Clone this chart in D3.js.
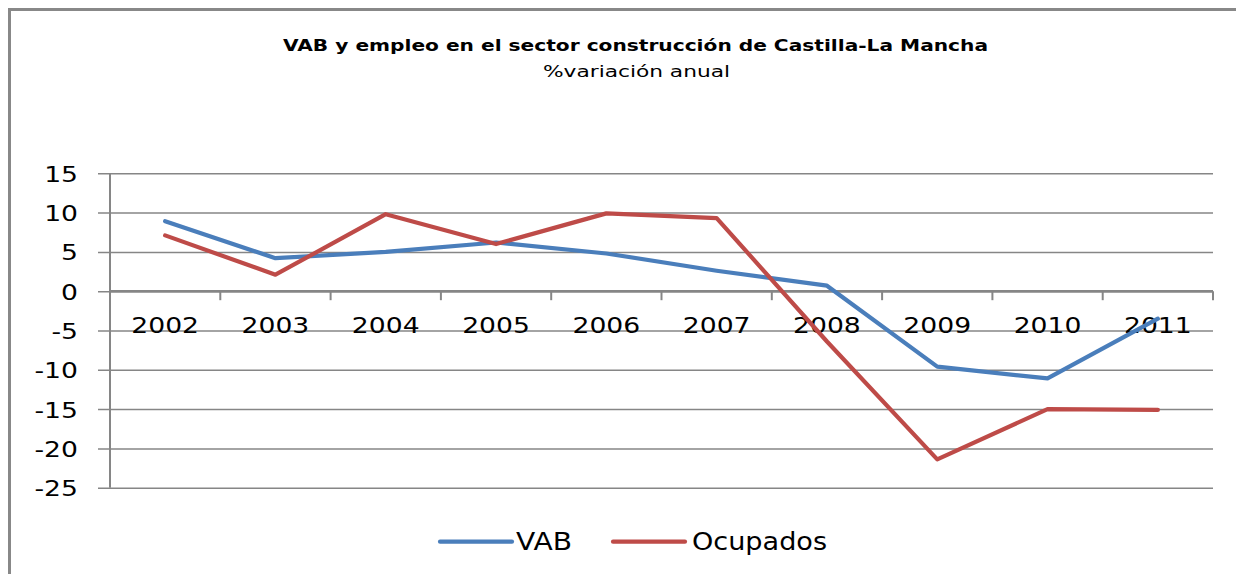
<!DOCTYPE html>
<html>
<head>
<meta charset="utf-8">
<script src="https://cdn.jsdelivr.net/npm/d3@7"></script>
<style>
  html, body { margin: 0; padding: 0; background: #fff; }
  svg { display: block; }
  text { font-family: "DejaVu Sans", Verdana, sans-serif; fill: #000; }
</style>
</head>
<body>
<svg id="chart" width="1236" height="574"></svg>
<script>
const years = ["2002","2003","2004","2005","2006","2007","2008","2009","2010","2011"];
const vab = [8.9, 4.2, 5.0, 6.2, 4.8, 2.6, 0.7, -9.6, -11.1, -3.5];
const ocupados = [7.1, 2.1, 9.8, 6.0, 9.9, 9.3, -6.4, -21.4, -15.0, -15.1];
const yTicks = [15, 10, 5, 0, -5, -10, -15, -20, -25];
const seriesNames = ["VAB", "Ocupados"];
const colors = ["#4A7EBB", "#BE4B48"];
const titleText = "VAB y empleo en el sector construcción de Castilla-La Mancha";
const subtitleText = "%variación anual";

const svg = d3.select("#chart");
svg.append("rect").attr("width", 1236).attr("height", 574).attr("fill", "#fff");

// outer frame (clipped: only top & left visible)
svg.append("path").attr("d", "M9.5,574 V9.5 H1236")
  .attr("fill", "none").attr("stroke", "#888").attr("stroke-width", 3);

// titles
svg.append("text").attr("x", 635.5).attr("y", 51).attr("text-anchor", "middle")
  .attr("font-size", 15).attr("font-weight", "bold")
  .attr("textLength", 705).attr("lengthAdjust", "spacingAndGlyphs").text(titleText);
svg.append("text").attr("x", 636.5).attr("y", 77).attr("text-anchor", "middle")
  .attr("font-size", 16)
  .attr("textLength", 187).attr("lengthAdjust", "spacingAndGlyphs").text(subtitleText);

const x = d3.scaleBand().domain(years).range([110, 1213]).padding(0);
const y = d3.scaleLinear().domain([-25, 15]).range([487.7, 173.3]);

// gridlines + y axis labels
const gy = svg.append("g").attr("transform", "translate(110,0)");
const yAxis = d3.axisLeft(y).tickValues(yTicks).tickSize(12).tickPadding(20)
  .tickFormat(d => d < 0 ? "-" + Math.abs(d) : String(d));
gy.call(yAxis);
gy.select(".domain").remove();
gy.selectAll(".tick line").attr("stroke", "#868686").attr("stroke-width", 1.5)
  .attr("x1", -12).attr("x2", 1103);
gy.selectAll(".tick text").attr("font-size", 22).attr("font-family", "DejaVu Sans")
  .attr("fill", "#000").attr("dy", "0.36em");

// y axis line
svg.append("line").attr("x1", 110).attr("x2", 110).attr("y1", y(15)).attr("y2", y(-25))
  .attr("stroke", "#868686").attr("stroke-width", 2);

// x axis at zero
const gx = svg.append("g").attr("transform", `translate(0,${y(0)})`);
gx.append("line").attr("x1", 110).attr("x2", 1213).attr("stroke", "#868686").attr("stroke-width", 2.5);
const boundaries = years.map(d => x(d) + x.bandwidth()).concat([x(years[0])]);
gx.selectAll("line.tk").data(boundaries).enter().append("line").attr("class", "tk")
  .attr("x1", d => d).attr("x2", d => d).attr("y1", 0).attr("y2", 9)
  .attr("stroke", "#868686").attr("stroke-width", 2);
gx.selectAll("text.lbl").data(years).enter().append("text").attr("class", "lbl")
  .attr("x", d => x(d) + x.bandwidth() / 2).attr("y", 42)
  .attr("text-anchor", "middle").attr("font-size", 22).text(d => d);

// stretch axis labels horizontally to match reference
svg.selectAll(".tick text, text.lbl").each(function() {
  const w = this.getComputedTextLength();
  d3.select(this).attr("textLength", w * 1.21).attr("lengthAdjust", "spacingAndGlyphs");
});

// lines
const line = d3.line().x((d, i) => x(years[i]) + x.bandwidth() / 2).y(d => y(d));
[vab, ocupados].forEach((s, k) => {
  svg.append("path").datum(s).attr("d", line).attr("fill", "none")
    .attr("stroke", colors[k]).attr("stroke-width", 4.2)
    .attr("stroke-linejoin", "round").attr("stroke-linecap", "round");
});

// legend
const legendItems = [
  { x1: 440, x2: 512, tx: 516, tw: 56 },
  { x1: 613, x2: 685, tx: 692, tw: 135 }
];
const ly = 541.7;
legendItems.forEach((it, k) => {
  svg.append("line").attr("x1", it.x1).attr("x2", it.x2).attr("y1", ly).attr("y2", ly)
    .attr("stroke", colors[k]).attr("stroke-width", 4.2).attr("stroke-linecap", "round");
  svg.append("text").attr("x", it.tx).attr("y", ly).attr("dy", "0.36em")
    .attr("font-size", 24).attr("textLength", it.tw).attr("lengthAdjust", "spacingAndGlyphs")
    .text(seriesNames[k]);
});
</script>
</body>
</html>
